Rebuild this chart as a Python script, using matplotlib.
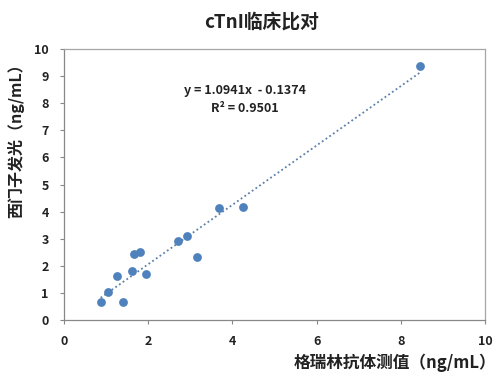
import matplotlib
matplotlib.use("Agg")
import matplotlib.pyplot as plt
import numpy as np

plt.rcParams['font.family'] = ['Noto Sans CJK SC', 'DejaVu Sans']

# Data
x_vals = [0.87, 1.04, 1.25, 1.40, 1.62, 1.67, 1.81, 1.94, 2.70, 2.92, 3.17, 3.68, 4.25, 8.46]
y_vals = [0.65, 1.05, 1.62, 0.65, 1.80, 2.43, 2.51, 1.69, 2.92, 3.10, 2.33, 4.13, 4.17, 9.38]
ticks = [0, 2, 4, 6, 8, 10]
yticks = [0, 1, 2, 3, 4, 5, 6, 7, 8, 9, 10]
eq_text = "y = 1.0941x  - 0.1374"
r2_text = "R² = 0.9501"

fig = plt.figure(figsize=(4.98, 3.76), dpi=100)
ax = fig.add_axes([64 / 498, 1 - 320 / 376, 421 / 498, 271 / 376])

ax.scatter(x_vals, y_vals, s=40, color='#4F81BD', zorder=3, linewidths=0)

# linear trendline over the data range
k, b = np.polyfit(x_vals, y_vals, 1)
xs = np.array([min(x_vals), max(x_vals)])
ax.plot(xs, k * xs + b, linestyle=(0, (1, 1.5)), color='#5B7FA8', linewidth=1.3, zorder=2)

ax.text(4.3, 8.46, eq_text, ha='center', va='center', fontsize=9, fontweight='bold', color='#222222')
ax.text(4.3, 7.79, r2_text, ha='center', va='center', fontsize=9, fontweight='bold', color='#222222')

ax.set_xlim(0, 10)
ax.set_ylim(0, 10)
ax.set_xticks(ticks)
ax.set_yticks(yticks)
for lbl in ax.get_xticklabels() + ax.get_yticklabels():
    lbl.set_fontweight('bold')
    lbl.set_fontsize(9)
    lbl.set_color('#222222')
ax.tick_params(axis='both', direction='out', length=3, color='#888888', pad=8)
ax.tick_params(axis='y', pad=8)

for side in ['top', 'right']:
    ax.spines[side].set_color('#A6A6A6')
for side in ['left', 'bottom']:
    ax.spines[side].set_color('#888888')
for sp in ax.spines.values():
    sp.set_linewidth(0.9)

fig.text(262 / 498, 1 - 22 / 376, "cTnI临床比对", ha='center', va='center',
         fontsize=13.5, fontweight='bold', color='#222222')
fig.text(16 / 498, 1 - 137 / 376, "西门子发光（ng/mL）", ha='center', va='center',
         rotation=90, fontsize=11.5, fontweight='bold', color='#222222')
fig.text(395 / 498, 1 - 363 / 376, "格瑞林抗体测值（ng/mL）", ha='center', va='center',
         fontsize=12, fontweight='bold', color='#222222')

fig.savefig("out.png", dpi=100)
